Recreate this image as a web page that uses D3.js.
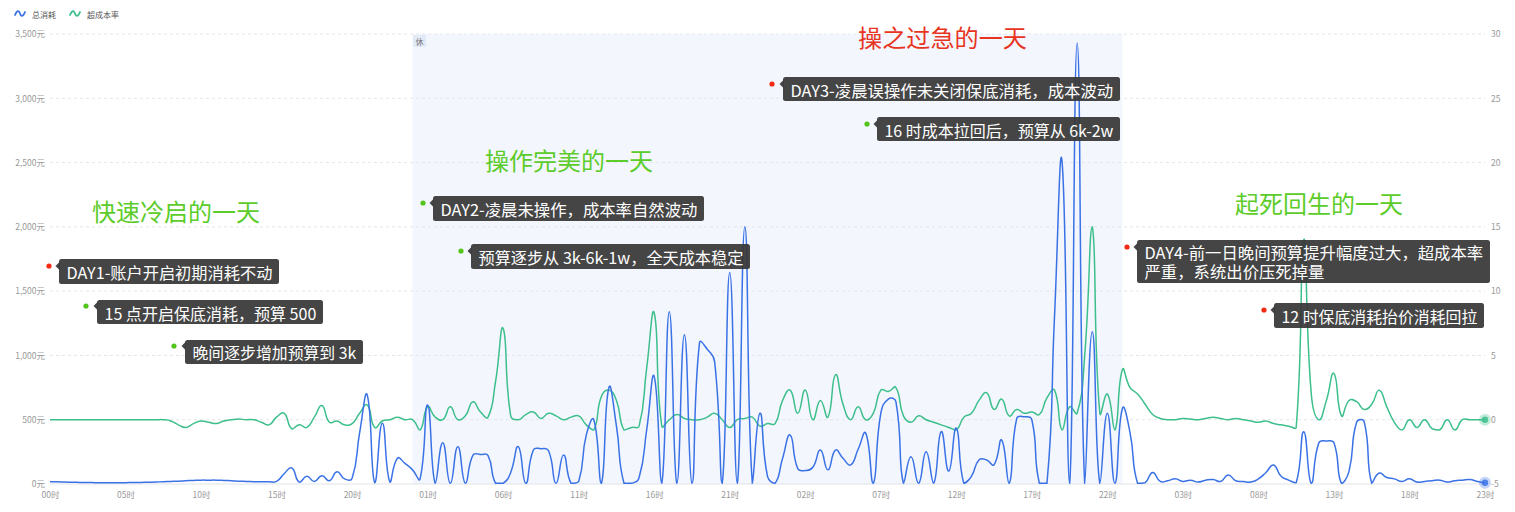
<!DOCTYPE html>
<html><head><meta charset="utf-8">
<script src="https://cdn.jsdelivr.net/npm/d3@7"></script>
<style>
html,body{margin:0;padding:0;background:#fff;}
#wrap{position:relative;width:1515px;height:512px;}
svg{display:block;font-family:"Noto Sans CJK SC","Noto Sans",sans-serif;}
.note-html{position:absolute;color:#fff;font-family:"Noto Sans CJK SC","Noto Sans",sans-serif;white-space:pre;margin:0;padding:0;}
</style>
</head><body>
<div id="wrap"><svg id="chart" width="1515" height="512"></svg></div>
<script>
// ---------------- data ----------------
const seriesNames = ["总消耗", "超成本率"];
const days = ["D1", "D2", "D3", "D4"];
const xTickLabels = ["00时","05时","10时","15时","20时","01时","06时","11时","16时","21时",
                     "02时","07时","12时","17时","22时","03时","08时","13时","18时","23时"];
const costTicks = [0, 500, 1000, 1500, 2000, 2500, 3000, 3500];
const rateTicks = [-5, 0, 5, 10, 15, 20, 25, 30];

// 总消耗 (元), half-hourly
const costValues = [
  18,17,15,14,12,12,10,10,10,10,10,12,12,14,15,18,20,22,25,28,30,30,30,28,25,22,20,18,18,18,20,80,125,15,60,20,65,25,95,40,45,400,692,10,472,15,200,160,
  110,40,615,5,320,5,290,5,225,230,220,5,5,90,290,5,265,275,260,5,225,5,20,380,500,5,750,450,5,5,50,420,835,5,1340,5,1160,5,1100,1050,950,5,1645,5,2000,5,550,60,
  5,200,381,120,105,130,264,110,264,200,148,270,396,5,550,660,640,5,212,5,251,5,407,100,435,5,60,187,187,150,342,5,510,523,500,5,5,1300,2507,5,3430,5,1185,5,550,5,589,400,
  5,10,90,20,25,40,20,30,15,30,35,20,70,25,20,15,40,90,148,60,30,10,407,5,320,335,320,5,100,480,485,5,85,50,40,20,40,15,20,25,30,15,25,30,35,20,10
];
// 超成本率, half-hourly
const rateValues = [
  0,0,0,0,0,0,0,0,0,0,0,0,0,0,0,0,-0.1,-0.4,-0.6,-0.3,-0.1,-0.2,-0.3,-0.1,0,0.05,0,0,-0.2,-0.4,0.2,0.5,-0.7,-0.4,-0.6,0.2,1.1,-0.2,-0.1,-0.4,-0.3,0.5,1.15,-0.6,-0.1,0,0.2,0,
  0.0,-0.8,1.0,0.2,0.0,1.0,0.0,0.3,1.4,0.6,0.2,3.0,7.1,0.3,0.0,0.4,0.6,0.1,0.5,0.3,0.0,0.2,0.3,-0.4,-0.8,1.8,2.3,1.5,-0.8,-0.6,-0.5,4.0,8.3,-0.5,0.0,0.4,0.1,0.0,0.0,0.2,0.5,0.0,-0.6,0.0,0.1,0.2,-0.5,-0.3,
  -0.3,1.5,2.3,0.5,2.3,0.0,1.5,0.2,3.5,1.2,0.0,1.0,0.0,0.5,2.3,2.2,2.5,0.3,-0.2,0.3,0.0,-0.2,-0.4,-0.6,-0.8,0.2,0.5,1.5,2.1,0.8,1.6,0.3,0.8,0.5,0.6,0.4,1.7,2.3,-0.8,1.0,0.5,5.0,15.0,0.5,2.0,-0.8,3.9,2.5,
  2.0,1.2,0.4,0.1,0.0,0.0,0.1,0.05,0.0,0.1,0.2,0.1,0.0,0.1,0.0,-0.1,-0.2,-0.1,-0.3,-0.4,-0.5,-0.6,14,2,0.0,1.5,3.6,0.3,1.5,1.4,0.8,1.2,2.3,1.0,-0.2,-0.8,0.0,-0.6,0.0,-0.7,-0.8,0.0,-0.8,0.0,0.0,0.0,0.0
];
const restLabel = "休";
const restRange = ["D2 00:00", "D3 23:00"];
const dayTitles = ["快速冷启的一天", "操作完美的一天", "操之过急的一天", "起死回生的一天"];
const noteTexts = [
  ["DAY1-账户开启初期消耗不动"],
  ["15 点开启保底消耗，预算 500"],
  ["晚间逐步增加预算到 3k"],
  ["DAY2-凌晨未操作，成本率自然波动"],
  ["预算逐步从 3k-6k-1w，全天成本稳定"],
  ["DAY3-凌晨误操作未关闭保底消耗，成本波动"],
  ["16 时成本拉回后，预算从 6k-2w"],
  ["DAY4-前一日晚间预算提升幅度过大，超成本率", "严重，系统出价压死掉量"],
  ["12 时保底消耗抬价消耗回拉"]
];
const noteKinds = ["bad","good","good","good","good","bad","good","bad","bad"];

// categories (half-hour slots)
const categories = [];
days.forEach(d => { for (let h = 0; h < 24; h++) for (const m of ["00","30"]) categories.push(`${d} ${String(h).padStart(2,"0")}:${m}`); });
categories.length = costValues.length;

// ---------------- layout ----------------
const L = 50, R = 1485, T = 34, B = 484;
const C = {
  blue: "#3a72e6", green: "#3dbf8c", grid: "#e4e6ea", axisText: "#999", band: "#f3f6fd",
  titleGood: "#5ccc2a", titleBad: "#e8341f", dotGood: "#52c41a", dotBad: "#f52a14", box: "rgba(55,55,55,0.93)"
};
const titleLayout = [
  {x: 92, y: 210, w: 168, c: C.titleGood},
  {x: 485, y: 159, w: 168, c: C.titleGood},
  {x: 858, y: 36, w: 169, c: C.titleBad},
  {x: 1235, y: 202, w: 168, c: C.titleGood}
];
const noteLayout = [
  {dx: 49, dy: 266, x: 59, y: 259, w: 220, h: 25},
  {dx: 86, dy: 306, x: 97, y: 300, w: 226, h: 24},
  {dx: 174, dy: 346, x: 185, y: 340, w: 178, h: 24},
  {dx: 423, dy: 203, x: 433, y: 196, w: 271, h: 25},
  {dx: 461, dy: 251, x: 471, y: 244, w: 279, h: 25},
  {dx: 772, dy: 84, x: 783, y: 77, w: 337, h: 24},
  {dx: 867, dy: 124, x: 877, y: 117, w: 243, h: 24},
  {dx: 1127, dy: 247, x: 1137, y: 240, w: 353, h: 43},
  {dx: 1264, dy: 310, x: 1274, y: 303, w: 210, h: 25}
];

const svg = d3.select("#chart");
const wrap = d3.select("#wrap");
const x = d3.scalePoint().domain(categories).range([L, R]);
const yCost = d3.scaleLinear().domain([0, 3500]).range([B, T]);
const yRate = d3.scaleLinear().domain([-5, 30]).range([B, T]);

// rest-day band
const bx0 = x(restRange[0]), bx1 = x(restRange[1]);
svg.append("rect").attr("x", bx0).attr("y", T).attr("width", bx1 - bx0).attr("height", B - T).attr("fill", C.band);
svg.append("rect").attr("x", bx0 + 0.5).attr("y", T + 1).attr("width", 13).attr("height", 12).attr("fill", "#e2e9f7");
svg.append("text").attr("x", bx0 + 7).attr("y", T + 7.5).attr("text-anchor", "middle").attr("dominant-baseline", "central")
  .attr("font-size", 8).attr("fill", "#777").text(restLabel);

// gridlines
svg.append("g").selectAll("line").data(costTicks.filter(d => d > 0)).join("line")
  .attr("x1", L).attr("x2", R).attr("y1", d => yCost(d)).attr("y2", d => yCost(d))
  .attr("stroke", C.grid).attr("stroke-dasharray", "3,3");
svg.append("line").attr("x1", L).attr("x2", R).attr("y1", B).attr("y2", B).attr("stroke", "#e0e3e8");

// axes
const styleAxis = g => { g.select(".domain").remove(); g.selectAll("text").attr("fill", C.axisText).attr("font-size", 8.5).attr("font-family", '"Noto Sans CJK SC",sans-serif'); };
svg.append("g").attr("transform", `translate(${L},0)`)
  .call(d3.axisLeft(yCost).tickValues(costTicks).tickSize(0).tickPadding(5).tickFormat(d => d3.format(",")(d) + "元"))
  .call(styleAxis);
svg.append("g").attr("transform", `translate(${R},0)`)
  .call(d3.axisRight(yRate).tickValues(rateTicks).tickSize(0).tickPadding(6).tickFormat(d => String(d)))
  .call(styleAxis);
const xTickVals = categories.filter((c, i) => i % 10 === 0);
svg.append("g").attr("transform", `translate(0,${B})`)
  .call(d3.axisBottom(x).tickValues(xTickVals).tickSize(0).tickPadding(8).tickFormat((d) => xTickLabels[xTickVals.indexOf(d)]))
  .call(styleAxis);

// ECharts-style smooth curve (ratio of segment lengths, bbox-constrained)
function echartsCurve(smooth) {
  return function(ctx) {
    let pts;
    return {
      areaStart() {}, areaEnd() {},
      lineStart() { pts = []; },
      point(px, py) { pts.push([+px, +py]); },
      lineEnd() {
        const n = pts.length; if (!n) return;
        const xs = pts.map(p => p[0]), ys = pts.map(p => p[1]);
        const mnx = Math.min(...xs), mxx = Math.max(...xs), mny = Math.min(...ys), mxy = Math.max(...ys);
        const cl = c => [Math.min(Math.max(c[0], mnx), mxx), Math.min(Math.max(c[1], mny), mxy)];
        ctx.moveTo(pts[0][0], pts[0][1]);
        let cp0 = pts[0].slice(), v = [0, 0];
        for (let i = 1; i < n; i++) {
          const p = pts[i], prev = pts[i - 1], next = pts[i + 1];
          let cp1, ratio = 0.5;
          if (!next) cp1 = p.slice();
          else {
            v = [next[0] - prev[0], next[1] - prev[1]];
            const l0 = Math.hypot(p[0] - prev[0], p[1] - prev[1]);
            const l1 = Math.hypot(next[0] - p[0], next[1] - p[1]);
            ratio = (l0 + l1) > 0 ? l1 / (l0 + l1) : 0.5;
            cp1 = [p[0] - v[0] * smooth * (1 - ratio), p[1] - v[1] * smooth * (1 - ratio)];
          }
          const a = cl(cp0), b = cl(cp1);
          ctx.bezierCurveTo(a[0], a[1], b[0], b[1], p[0], p[1]);
          cp0 = [p[0] + v[0] * smooth * ratio, p[1] + v[1] * smooth * ratio];
        }
      }
    };
  };
}

const rateLine = d3.line().x((d, i) => x(categories[i])).y(d => yRate(d)).curve(echartsCurve(0.5));
const costLine = d3.line().x((d, i) => x(categories[i])).y(d => yCost(d)).curve(echartsCurve(0.5));
svg.append("path").datum(rateValues).attr("d", rateLine).attr("fill", "none").attr("stroke", C.green).attr("stroke-width", 1.5);
svg.append("path").datum(costValues).attr("d", costLine).attr("fill", "none").attr("stroke", C.blue).attr("stroke-width", 1.5);

// end markers
const lastCat = categories[categories.length - 1];
[[yRate(rateValues[rateValues.length - 1]), C.green], [yCost(costValues[costValues.length - 1]), C.blue]].forEach(([yy, col]) => {
  svg.append("circle").attr("cx", x(lastCat)).attr("cy", yy).attr("r", 6).attr("fill", col).attr("opacity", 0.3);
  svg.append("circle").attr("cx", x(lastCat)).attr("cy", yy).attr("r", 3.2).attr("fill", col).attr("opacity", 0.85);
});

// legend
const legend = svg.append("g");
[[15, C.blue, 32, seriesNames[0]], [70, C.green, 87, seriesNames[1]]].forEach(([ix, col, tx, label]) => {
  legend.append("path").attr("d", `M${ix},15 C${ix + 2},10 ${ix + 4},10 ${ix + 5},13.5 C${ix + 6},17 ${ix + 8},17 ${ix + 10},12`)
    .attr("fill", "none").attr("stroke", col).attr("stroke-width", 1.8).attr("stroke-linecap", "round");
  legend.append("text").attr("x", tx).attr("y", 14.5).attr("dominant-baseline", "central").attr("font-size", 8).attr("fill", "#555").text(label);
});

// fit helper
function fit(sel, target) {
  const len = sel.node().getComputedTextLength();
  const fs = parseFloat(sel.attr("font-size"));
  if (len > 0) sel.attr("font-size", fs * target / len);
}

// day titles
dayTitles.forEach((t, i) => {
  const lo = titleLayout[i];
  const tx = svg.append("text").attr("x", lo.x).attr("y", lo.y).attr("dominant-baseline", "central")
    .attr("font-size", 24).attr("fill", lo.c).text(t);
  fit(tx, lo.w);
});

// annotations
noteTexts.forEach((lines, i) => {
  const lo = noteLayout[i];
  const g = svg.append("g");
  g.append("circle").attr("cx", lo.dx).attr("cy", lo.dy).attr("r", 2.6).attr("fill", noteKinds[i] === "bad" ? C.dotBad : C.dotGood);
  g.append("rect").attr("x", lo.x).attr("y", lo.y).attr("width", lo.w).attr("height", lo.h).attr("rx", 2.5).attr("fill", C.box);
  g.append("path").attr("d", `M${lo.x + 0.5},${lo.dy - 4}L${lo.x - 3.5},${lo.dy}L${lo.x + 0.5},${lo.dy + 4}Z`).attr("fill", C.box);
  const pad = 7;
  // measure the longest line at 16px
  let maxLen = 0;
  lines.forEach(ln => {
    const m = svg.append("text").attr("font-size", 16).text(ln);
    maxLen = Math.max(maxLen, m.node().getComputedTextLength());
    m.remove();
  });
  const fs = 16 * (lo.w - 2 * pad) / maxLen;
  if (lines.length === 1) {
    g.append("text").attr("x", lo.x + pad + 0.5).attr("y", lo.y + lo.h / 2 + 0.5).attr("dominant-baseline", "central")
      .attr("font-size", fs).attr("fill", "#fff").text(lines[0]);
  } else {
    // multi-line note as one wrapped block
    const lh = 19.5;
    wrap.append("div").attr("class", "note-html")
      .style("left", (lo.x + pad + 0.5) + "px")
      .style("top", (lo.y + (lo.h - lh * lines.length) / 2 + 0.5) + "px")
      .style("font-size", fs + "px")
      .style("line-height", lh + "px")
      .text(lines.join("\n"));
  }
});
</script>
</body></html>
